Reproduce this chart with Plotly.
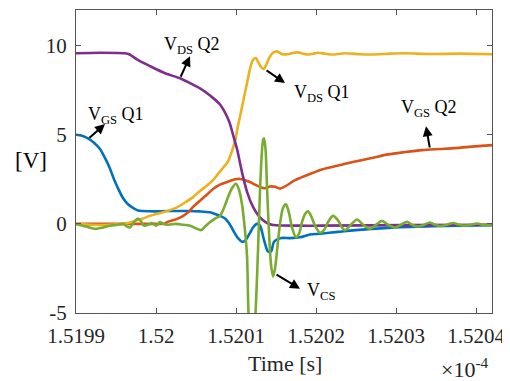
import plotly.graph_objects as go

# ---------------- data (time axis in units shown on the ticks, ×1e-4 s) ----------------
t_vds_q2 = [1.5199, 1.51993, 1.5199612, 1.519967, 1.5199762, 1.5199925, 1.5200113, 1.52003, 1.5200425,
            1.520055, 1.5200675, 1.52008, 1.5200913, 1.5200963, 1.5201013, 1.5201075, 1.5201138,
            1.5201213, 1.5201275, 1.5201338, 1.52014, 1.5201463, 1.52018, 1.520205, 1.52031, 1.52042]
v_vds_q2 = [9.57, 9.6, 9.57, 9.5, 9.23, 8.85, 8.45, 8.17, 7.9,
            7.6, 7.2, 6.7, 5.76, 5.0, 4.2, 2.9, 1.8,
            0.95, 0.5, 0.2, 0.02, -0.06, -0.1, -0.1, -0.07, -0.05]

t_vgs_q1 = [1.5199, 1.5199075, 1.519915, 1.5199225, 1.51993, 1.5199362, 1.5199425, 1.5199475, 1.5199525,
            1.5199587, 1.519965, 1.5199712, 1.5199775, 1.5199837, 1.5199988, 1.5200138, 1.5200388,
            1.520055, 1.5200675, 1.5200738, 1.52008, 1.5200863, 1.5200925, 1.5200988, 1.5201025,
            1.5201075, 1.5201113, 1.520115, 1.5201188, 1.5201213, 1.5201263, 1.52013, 1.520135,
            1.52014, 1.5201438, 1.5201475, 1.520155, 1.5201675, 1.52018, 1.5201925, 1.520205,
            1.5202275, 1.5202425, 1.52027, 1.520305, 1.5203463, 1.520380, 1.52042]
v_vgs_q1 = [5.0, 4.95, 4.8, 4.55, 4.2, 3.7, 3.1, 2.5, 2.0,
            1.45, 1.1, 0.9, 0.75, 0.72, 0.7, 0.72, 0.72,
            0.7, 0.65, 0.56, 0.45, 0.3, -0.05, -0.55, -0.8,
            -1.0, -0.95, -0.7, -0.4, -0.2, 0.0, -0.1, -0.9,
            -1.55, -1.55, -1.0, -0.8, -0.8, -0.75, -0.6, -0.55,
            -0.45, -0.38, -0.28, -0.18, -0.13, -0.1, -0.07]

t_vds_q1 = [1.5199, 1.5199175, 1.5199425, 1.5199588, 1.5199675, 1.5199762, 1.5199838, 1.5199925,
            1.5200088, 1.520025, 1.5200363, 1.5200463, 1.520055, 1.5200638, 1.5200713, 1.5200775,
            1.5200838, 1.52009, 1.520095, 1.5200988, 1.5201025, 1.5201063, 1.52011, 1.5201138,
            1.5201175, 1.5201213, 1.520125, 1.5201275, 1.5201313, 1.520135, 1.5201375, 1.5201413,
            1.5201463, 1.5201513, 1.5201563, 1.5201613, 1.5201675, 1.5201775, 1.5201838, 1.52019,
            1.5201963, 1.5202025, 1.5202113, 1.52022, 1.5202363, 1.5202550, 1.52027, 1.5202925,
            1.5203113, 1.5203425, 1.52038, 1.52042]
v_vds_q1 = [0.0, -0.05, -0.05, 0.0, 0.08, 0.2, 0.3, 0.45,
            0.65, 0.9, 1.2, 1.5, 1.85, 2.15, 2.45, 2.8,
            3.15, 3.5, 4.1, 4.64, 5.5, 6.3, 7.1, 7.9,
            8.7, 9.2, 9.3, 9.1, 8.8, 8.7, 8.9, 9.3,
            9.6, 9.68, 9.55, 9.5, 9.55, 9.62, 9.55, 9.5,
            9.55, 9.6, 9.55, 9.5, 9.57, 9.52, 9.5, 9.55,
            9.57, 9.53, 9.55, 9.52]

t_vgs_q2 = [1.5199, 1.5199925, 1.5200113, 1.5200138, 1.5200213, 1.52003, 1.5200388, 1.5200475,
            1.520055, 1.5200638, 1.5200713, 1.52008, 1.5200888, 1.5200988, 1.520105, 1.5201113,
            1.5201175, 1.5201238, 1.52013, 1.5201363, 1.5201425, 1.5201488, 1.520155, 1.5201613,
            1.5201738, 1.5201925, 1.5202075, 1.52023, 1.5202488, 1.52027, 1.52029, 1.5203113,
            1.5203325, 1.520355, 1.5203738, 1.5203988, 1.52042]
v_vgs_q2 = [0.0, 0.0, 0.02, 0.1, 0.2, 0.35, 0.6, 1.0,
            1.3, 1.65, 1.96, 2.2, 2.35, 2.5, 2.52, 2.45,
            2.35, 2.2, 2.07, 2.0, 2.1, 2.08, 1.98, 2.1,
            2.45, 2.8, 3.05, 3.3, 3.5, 3.7, 3.9, 4.03,
            4.14, 4.2, 4.25, 4.35, 4.42]

t_vcs = [1.5199, 1.5199125, 1.5199250, 1.5199338, 1.5199425, 1.5199525, 1.5199588, 1.5199638,
         1.5199675, 1.5199725, 1.5199775, 1.5199812, 1.519985, 1.51999, 1.519995, 1.52,
         1.520005, 1.5200088, 1.520015, 1.520025, 1.5200338, 1.5200425, 1.52005, 1.5200563,
         1.5200613, 1.5200675, 1.5200738, 1.52008, 1.520085, 1.52009, 1.520095, 1.5201,
         1.5201038, 1.5201075, 1.5201113, 1.5201138, 1.5201156, 1.52012, 1.5201244, 1.5201275,
         1.5201306, 1.5201338, 1.520135, 1.5201369, 1.5201388, 1.5201413, 1.5201438, 1.5201463,
         1.5201488, 1.5201513, 1.520155, 1.5201588, 1.5201625, 1.5201663, 1.52017, 1.520175,
         1.5201788, 1.5201825, 1.5201863, 1.52019, 1.5201938, 1.5201988, 1.520205, 1.52021,
         1.520215, 1.5202213, 1.5202275, 1.5202325, 1.5202363, 1.5202425, 1.5202513, 1.5202588,
         1.5202675, 1.520275, 1.5202825, 1.52029, 1.5202988, 1.5203063, 1.5203138, 1.52032,
         1.5203275, 1.520335, 1.5203425, 1.5203488, 1.5203563, 1.5203638, 1.5203713, 1.5203788,
         1.5203863, 1.5203938, 1.5204013, 1.5204088, 1.5204175, 1.52042]
v_vcs = [0.0, -0.15, -0.28, -0.2, -0.1, -0.05, 0.0, -0.15,
         -0.2, 0.1, 0.3, 0.15, -0.1, -0.05, 0.05, -0.1,
         0.1, 0.0, -0.05, 0.0, -0.05, -0.1, -0.25, -0.35,
         -0.15, 0.1, 0.3, 0.45, 0.9, 1.5, 2.0, 2.25,
         1.9, 1.1, -0.4, -1.8, -5.0, -8.0, -5.0, -1.5,
         2.5, 4.7, 4.8, 4.2, 2.0, -0.5, -2.3, -2.95,
         -2.5, -1.5, 0.0, 0.9, 1.1, 0.6, -0.2, -0.75,
         -0.55, 0.1, 0.55, 0.7, 0.45, -0.1, -0.5, -0.35,
         0.1, 0.45, 0.2, -0.2, -0.36, -0.1, 0.25, -0.05,
         -0.27, -0.05, 0.17, -0.05, -0.2, -0.05, 0.12, -0.05,
         -0.15, -0.05, 0.08, -0.05, -0.12, -0.05, 0.05, -0.05,
         -0.1, -0.05, 0.02, -0.05, -0.08, -0.06]

x_ticks = [1.5199, 1.52, 1.5201, 1.5202, 1.5203, 1.5204]
x_tick_text = ["1.5199", "1.52", "1.5201", "1.5202", "1.5203", "1.5204"]
y_ticks = [-5, 0, 5, 10]
y_tick_text = ["-5", "0", "5", "10"]

# ---------------- figure ----------------
FONT = "Liberation Serif, Times New Roman, serif"
series = [
    (t_vgs_q1, v_vgs_q1, "#0072BD", "V_GS Q1"),
    (t_vgs_q2, v_vgs_q2, "#D95319", "V_GS Q2"),
    (t_vds_q1, v_vds_q1, "#EDB120", "V_DS Q1"),
    (t_vds_q2, v_vds_q2, "#7E2F8E", "V_DS Q2"),
    (t_vcs, v_vcs, "#77AC30", "V_CS"),
]

fig = go.Figure()
for t, v, c, name in series:
    fig.add_trace(go.Scatter(x=t, y=v, mode="lines", name=name,
                             line=dict(color=c, width=2.6, shape="spline", smoothing=0.8),
                             showlegend=False))

axis_common = dict(showline=True, linecolor="#555555", linewidth=1, mirror="ticks",
                   ticks="inside", ticklen=5, tickcolor="#555555", showgrid=False,
                   zeroline=False, ticklabelstandoff=4,
                   tickfont=dict(family=FONT, size=21, color="#262626"))

fig.update_xaxes(range=[1.5199, 1.52042], tickvals=x_ticks, ticktext=x_tick_text, **axis_common)
fig.update_yaxes(range=[-5, 12], tickvals=y_ticks, ticktext=y_tick_text, **axis_common)

anns = []
# arrows: (head_x, head_y, tail_x, tail_y)
arrows = [
    (1.5200425, 9.4, 1.52003, 8.17),
    (1.5199363, 5.6, 1.519915, 4.76),
    (1.5201613, 7.9, 1.5201363, 8.67),
    (1.5203375, 5.48, 1.5203425, 4.2),
    (1.52018, -3.64, 1.5201488, -2.8),
]
for hx, hy, tx, ty in arrows:
    anns.append(dict(x=hx, y=hy, ax=tx, ay=ty, xref="x", yref="y", axref="x", ayref="y",
                     text="", showarrow=True, arrowhead=2, arrowsize=1, arrowwidth=2,
                     arrowcolor="black"))

labels = [
    (1.5200075, 10.0, "V<sub>DS</sub> Q2"),
    (1.5199125, 6.1, "V<sub>GS</sub> Q1"),
    (1.52017, 7.3, "V<sub>DS</sub> Q1"),
    (1.5203038, 6.5, "V<sub>GS</sub> Q2"),
    (1.5201863, -3.8, "V<sub>CS</sub>"),
]
for x, y, txt in labels:
    anns.append(dict(x=x, y=y, xref="x", yref="y", text=txt, showarrow=False,
                     xanchor="left", yanchor="middle",
                     font=dict(family=FONT, size=18, color="black")))

anns.append(dict(x=-0.108, y=0.502, xref="paper", yref="paper", text="[V]", showarrow=False,
                 xanchor="center", yanchor="middle", font=dict(family=FONT, size=23, color="black")))
anns.append(dict(x=0.502, y=-0.168, xref="paper", yref="paper", text="Time [s]", showarrow=False,
                 xanchor="center", yanchor="middle", font=dict(family=FONT, size=22, color="#262626")))
anns.append(dict(x=0.935, y=-0.18, xref="paper", yref="paper", text="×10<sup>-4</sup>",
                 showarrow=False, xanchor="center", yanchor="middle",
                 font=dict(family=FONT, size=22, color="#262626")))

# The page body adds an 8px offset, so the figure is 8px smaller and the
# left/top margins are 8px narrower to keep the plot area where the reference has it.
fig.update_layout(width=502, height=373, margin=dict(l=68, r=18, t=2, b=68),
                  paper_bgcolor="white", plot_bgcolor="white", annotations=anns,
                  font=dict(family=FONT))

fig.write_html("out.html")
